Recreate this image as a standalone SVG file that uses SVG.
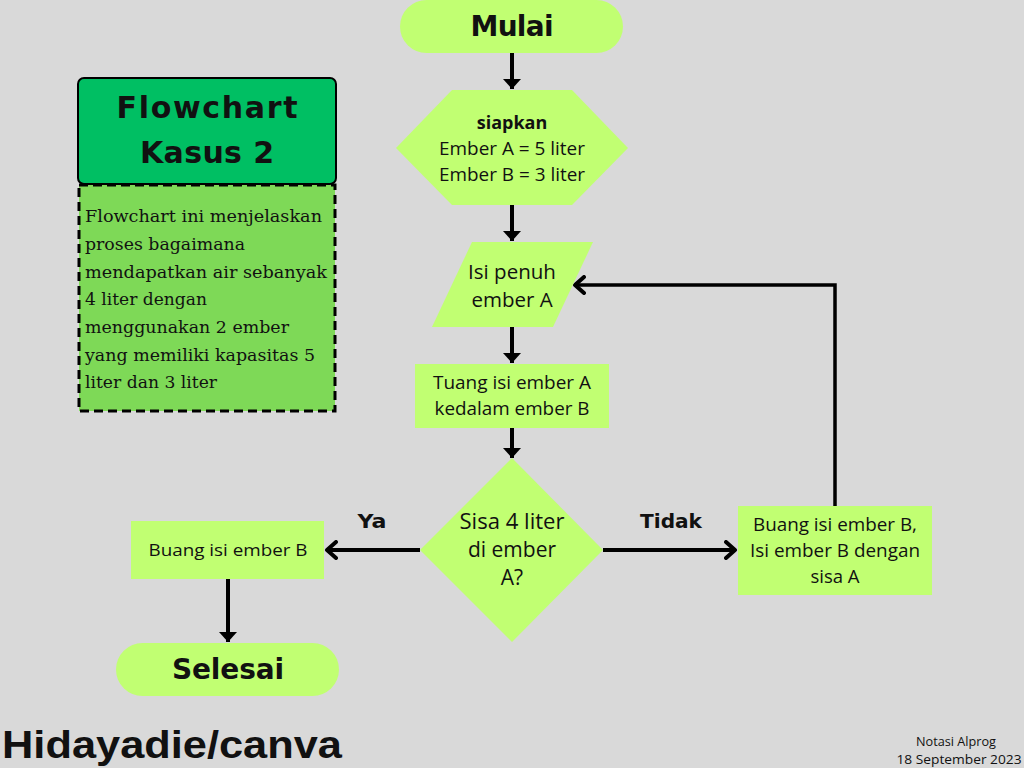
<svg xmlns="http://www.w3.org/2000/svg" width="1024" height="768" viewBox="0 0 1024 768">
<defs>
<style>
.n{fill:#c1ff72}
.t{font-family:"Open Sans","Liberation Sans",sans-serif;font-size:18.5px;fill:#111;text-anchor:middle}
.b{font-family:"DejaVu Sans","Liberation Sans",sans-serif;font-weight:bold;fill:#111;text-anchor:middle}
.h{font-family:"Liberation Sans","Open Sans",sans-serif;font-weight:bold;fill:#111}
.s{font-family:"DejaVu Serif","Liberation Serif",serif;font-size:16.5px;fill:#111}
.c{fill:none;stroke:#000;stroke-width:4}
</style>
<marker id="tri" markerUnits="userSpaceOnUse" viewBox="0 0 18 12" refX="9" refY="11" markerWidth="18" markerHeight="12" orient="0">
<path d="M0,1 L18,1 L9,11 Z" fill="#000"/>
</marker>
<marker id="chev" markerUnits="userSpaceOnUse" viewBox="0 0 14 20" refX="11" refY="10" markerWidth="14" markerHeight="20" orient="auto">
<path d="M2,2 L11,10 L2,18" fill="none" stroke="#000" stroke-width="4" stroke-linecap="round" stroke-linejoin="round"/>
</marker>
</defs>
<rect width="1024" height="768" fill="#d9d9d9"/>

<g id="connectors">
<line class="c" x1="512" y1="53" x2="512" y2="89" marker-end="url(#tri)"/>
<line class="c" x1="512" y1="205" x2="512" y2="241" marker-end="url(#tri)"/>
<line class="c" x1="512" y1="327" x2="512" y2="363" marker-end="url(#tri)"/>
<line class="c" x1="512" y1="428" x2="512" y2="458" marker-end="url(#tri)"/>
<line class="c" x1="420" y1="550" x2="327" y2="550" marker-end="url(#chev)"/>
<line class="c" x1="603" y1="550" x2="735" y2="550" marker-end="url(#chev)"/>
<line class="c" x1="228" y1="579" x2="228" y2="642" marker-end="url(#tri)"/>
<polyline class="c" style="stroke-width:3.5" points="835,506 835,285 575,285" marker-end="url(#chev)"/>
<text class="b" x="372" y="528" font-size="19" textLength="29" lengthAdjust="spacingAndGlyphs">Ya</text>
<text class="b" x="671" y="528" font-size="19" textLength="62" lengthAdjust="spacingAndGlyphs">Tidak</text>
</g>

<g id="mulai">
<rect class="n" x="400" y="0" width="223" height="53" rx="26.5"/>
<text class="b" x="512" y="36" font-size="28" textLength="83" lengthAdjust="spacing">Mulai</text>
</g>

<g id="siapkan">
<polygon class="n" points="452,90 572,90 628,148 572,205 452,205 396,148"/>
<text class="t" x="512" y="129" style="font-weight:bold;font-size:18px">siapkan</text>
<text class="t" x="512" y="155" textLength="146" lengthAdjust="spacingAndGlyphs">Ember A = 5 liter</text>
<text class="t" x="512" y="181" textLength="146" lengthAdjust="spacingAndGlyphs">Ember B = 3 liter</text>
</g>

<g id="isi-penuh">
<polygon class="n" points="472,242 593,242 553,327 432,327"/>
<text class="t" x="512" y="279" style="font-size:20.5px">Isi penuh</text>
<text class="t" x="512" y="307" style="font-size:20.5px">ember A</text>
</g>

<g id="tuang">
<rect class="n" x="415" y="364" width="194" height="64"/>
<text class="t" x="512" y="389" textLength="158" lengthAdjust="spacingAndGlyphs">Tuang isi ember A</text>
<text class="t" x="512" y="415" textLength="155" lengthAdjust="spacingAndGlyphs">kedalam ember B</text>
</g>

<g id="keputusan">
<polygon class="n" points="512,458 603,550 512,642 420,550"/>
<text class="t" x="512" y="529" style="font-size:21px" textLength="105" lengthAdjust="spacingAndGlyphs">Sisa 4 liter</text>
<text class="t" x="512" y="557" style="font-size:21px">di ember</text>
<text class="t" x="512" y="585" style="font-size:21px">A?</text>
</g>

<g id="buang-b">
<rect class="n" x="131" y="521" width="193" height="58"/>
<text class="t" x="228" y="556" style="font-size:17px" textLength="159" lengthAdjust="spacingAndGlyphs">Buang isi ember B</text>
</g>

<g id="selesai">
<rect class="n" x="116" y="643" width="223" height="53" rx="26.5"/>
<text class="b" x="228" y="679" font-size="28" textLength="112" lengthAdjust="spacing">Selesai</text>
</g>

<g id="buang-isi">
<rect class="n" x="738" y="506" width="194" height="89"/>
<text class="t" x="835" y="531" textLength="164" lengthAdjust="spacingAndGlyphs">Buang isi ember B,</text>
<text class="t" x="835" y="557" textLength="170" lengthAdjust="spacingAndGlyphs">Isi ember B dengan</text>
<text class="t" x="835" y="583">sisa A</text>
</g>

<g id="judul">
<rect x="78" y="78" width="258" height="106" rx="6" fill="#00bf63" stroke="#000" stroke-width="2"/>
<text class="b" x="207" y="118" font-size="30" textLength="181" lengthAdjust="spacing">Flowchart</text>
<text class="b" x="207" y="163" font-size="30" textLength="134" lengthAdjust="spacing">Kasus 2</text>
</g>

<g id="keterangan">
<rect x="79" y="185" width="256" height="226" fill="#7ed957" stroke="#000" stroke-width="3" stroke-dasharray="9,5"/>
<text class="s" x="85" y="222" textLength="237" lengthAdjust="spacingAndGlyphs">Flowchart ini menjelaskan</text>
<text class="s" x="85" y="250" textLength="160" lengthAdjust="spacingAndGlyphs">proses bagaimana</text>
<text class="s" x="85" y="278" textLength="242" lengthAdjust="spacingAndGlyphs">mendapatkan air sebanyak</text>
<text class="s" x="85" y="305" textLength="122" lengthAdjust="spacingAndGlyphs">4 liter dengan</text>
<text class="s" x="85" y="333" textLength="204" lengthAdjust="spacingAndGlyphs">menggunakan 2 ember</text>
<text class="s" x="85" y="361" textLength="230" lengthAdjust="spacingAndGlyphs">yang memiliki kapasitas 5</text>
<text class="s" x="85" y="388" textLength="132" lengthAdjust="spacingAndGlyphs">liter dan 3 liter</text>
</g>

<g id="footer">
<text class="h" x="2" y="758" font-size="39" textLength="340" lengthAdjust="spacingAndGlyphs">Hidayadie/canva</text>
<text class="t" x="956" y="746" style="font-size:13px" textLength="80" lengthAdjust="spacingAndGlyphs">Notasi Alprog</text>
<text class="t" x="959" y="764" style="font-size:13px" textLength="125" lengthAdjust="spacingAndGlyphs">18 September 2023</text>
</g>
</svg>
